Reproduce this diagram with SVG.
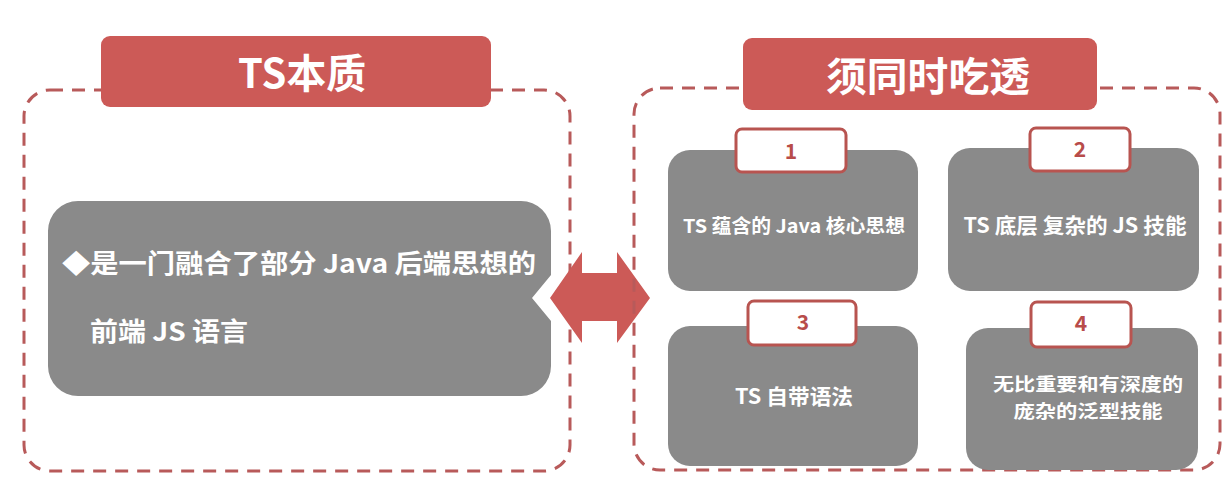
<svg xmlns="http://www.w3.org/2000/svg" width="1230" height="502" viewBox="0 0 1230 502">
<style>
.dash{fill:none;stroke:#b85a5a;stroke-width:3;stroke-dasharray:13 9}
.title{fill:#cc5a57}
.tt{fill:#fff;font-family:"Noto Sans CJK SC","Noto Sans",sans-serif;font-weight:700;font-size:40px;text-anchor:middle}
.gray{fill:#8a8a8a}
.tab{fill:#fff;stroke:#b85450;stroke-width:3}
.tabt{fill:#b84c4a;font-family:"Noto Sans CJK SC","Noto Sans",sans-serif;font-weight:700;font-size:21px;text-anchor:middle}
.wt{fill:#fff;font-family:"Noto Sans CJK SC","Noto Sans",sans-serif;font-weight:700;text-anchor:middle}
.lt{fill:#fff;font-family:"Noto Sans CJK SC","Noto Sans",sans-serif;font-weight:700;font-size:26px}
</style>
<rect width="1230" height="502" fill="#fff"/>
<g id="left-panel">
<rect class="dash" x="24" y="90" width="546" height="381" rx="26"/>
<rect class="title" x="101" y="36" width="390" height="71" rx="9"/>
<text class="tt" x="302" y="88" textLength="128" lengthAdjust="spacingAndGlyphs">TS本质</text>
</g>
<g id="left-node">
<path class="gray" d="M78,201 H521 A30,30 0 0 1 551,231 V275 L532,298 L551,321 V366 A30,30 0 0 1 521,396 H78 A30,30 0 0 1 48,366 V231 A30,30 0 0 1 78,201 Z"/>
<text class="lt" x="62" y="273" textLength="474" lengthAdjust="spacingAndGlyphs">◆是一门融合了部分 Java 后端思想的</text>
<text class="lt" x="90" y="341" textLength="158" lengthAdjust="spacingAndGlyphs">前端 JS 语言</text>
</g>
<g id="connectors">
<path fill="#cc5a57" d="M550,298 L582,252 V273 H617 V252 L650,298 L617,343 V321 H582 V343 Z"/>
</g>
<g id="right-panel">
<rect class="dash" x="634" y="88" width="586" height="382" rx="26"/>
<rect class="title" x="743" y="38" width="354" height="72" rx="9"/>
<text class="tt" x="928" y="91" textLength="204" lengthAdjust="spacingAndGlyphs">须同时吃透</text>
</g>
<g id="node1">
<rect class="gray" x="668" y="150" width="250" height="141" rx="22"/>
<rect class="tab" x="736" y="129" width="110" height="43" rx="6"/>
<text class="tabt" x="791" y="159">1</text>
<text class="wt" x="794" y="233" font-size="19" textLength="222" lengthAdjust="spacingAndGlyphs">TS 蕴含的 Java 核心思想</text>
</g>
<g id="node2">
<rect class="gray" x="948" y="148" width="251" height="143" rx="22"/>
<rect class="tab" x="1030" y="128" width="100" height="43" rx="6"/>
<text class="tabt" x="1080" y="157">2</text>
<text class="wt" x="1075" y="233" font-size="21" textLength="223" lengthAdjust="spacingAndGlyphs">TS 底层 复杂的 JS 技能</text>
</g>
<g id="node3">
<rect class="gray" x="668" y="326" width="250" height="140" rx="22"/>
<rect class="tab" x="748" y="301" width="108" height="44" rx="6"/>
<text class="tabt" x="803" y="330">3</text>
<text class="wt" x="794" y="404" font-size="21" textLength="118" lengthAdjust="spacingAndGlyphs">TS 自带语法</text>
</g>
<g id="node4">
<rect class="gray" x="966" y="328" width="232" height="142" rx="22"/>
<rect class="tab" x="1031" y="302" width="100" height="45" rx="6"/>
<text class="tabt" x="1081" y="331">4</text>
<text class="wt" x="1088" y="391" font-size="18" textLength="190" lengthAdjust="spacingAndGlyphs">无比重要和有深度的</text>
<text class="wt" x="1088" y="418" font-size="18" textLength="149" lengthAdjust="spacingAndGlyphs">庞杂的泛型技能</text>
</g>
</svg>
